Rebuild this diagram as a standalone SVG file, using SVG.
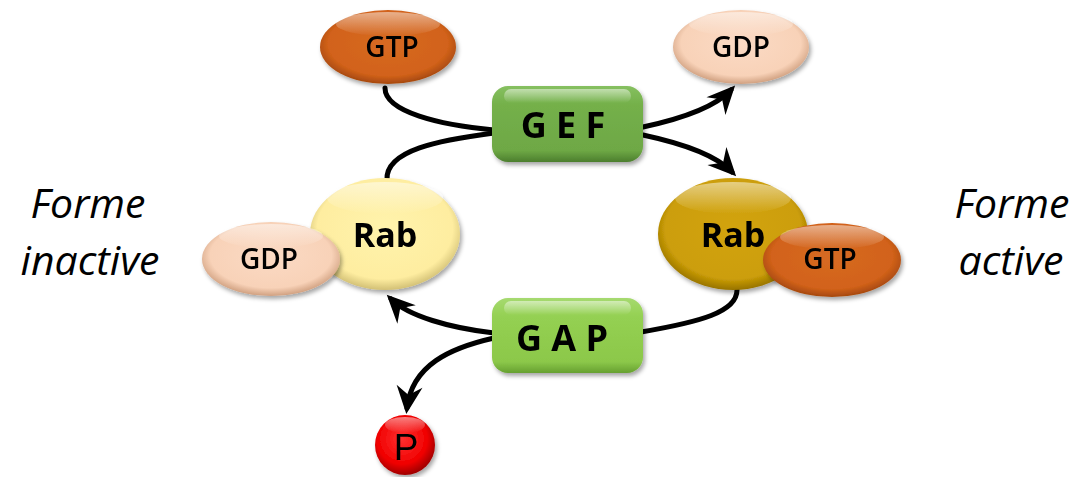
<svg xmlns="http://www.w3.org/2000/svg" width="1081" height="477" viewBox="0 0 1081 477">
<defs>
<style>
.conn{fill:none;stroke:#000;stroke-width:5;stroke-linecap:round}
.lbl{font-family:"Open Sans","Liberation Sans",sans-serif;font-weight:600;font-size:28px;text-anchor:middle;fill:#000}
.rab{font-family:"Open Sans","Liberation Sans",sans-serif;font-weight:700;font-size:34px;text-anchor:middle;fill:#000}
.enz{font-family:"Open Sans","Liberation Sans",sans-serif;font-weight:700;font-size:36px;text-anchor:middle;fill:#000}
.side{font-family:"Open Sans","Liberation Sans",sans-serif;font-style:italic;font-size:41px;text-anchor:middle;fill:#000}
.pp{font-family:"Liberation Sans",sans-serif;font-size:37px;text-anchor:middle;fill:#000}
.hl{fill:url(#hl)}
</style>
<filter id="sh" x="-20%" y="-20%" width="140%" height="150%">
<feDropShadow dx="2" dy="3" stdDeviation="2" flood-color="#000" flood-opacity="0.35"/>
</filter>
<linearGradient id="hl" x1="0" y1="0" x2="0" y2="1">
<stop offset="0" stop-color="#fff" stop-opacity="0.5"/>
<stop offset="1" stop-color="#fff" stop-opacity="0"/>
</linearGradient>
<radialGradient id="gGTP" cx="50%" cy="45%" r="55%">
<stop offset="0" stop-color="#D66A22"/><stop offset="0.8" stop-color="#D2621A"/><stop offset="1" stop-color="#A5480F"/>
</radialGradient>
<radialGradient id="gGDP" cx="50%" cy="45%" r="55%">
<stop offset="0" stop-color="#FBDAC4"/><stop offset="0.8" stop-color="#F8D2B8"/><stop offset="1" stop-color="#D0A080"/>
</radialGradient>
<radialGradient id="gRabI" cx="50%" cy="45%" r="55%">
<stop offset="0" stop-color="#FFF3AC"/><stop offset="0.82" stop-color="#FEEDA0"/><stop offset="1" stop-color="#D2C075"/>
</radialGradient>
<radialGradient id="gRabA" cx="50%" cy="45%" r="55%">
<stop offset="0" stop-color="#D2A30E"/><stop offset="0.82" stop-color="#CC9E08"/><stop offset="1" stop-color="#977300"/>
</radialGradient>
<radialGradient id="gP" cx="45%" cy="40%" r="60%">
<stop offset="0" stop-color="#FF3030"/><stop offset="0.7" stop-color="#F00000"/><stop offset="1" stop-color="#A00000"/>
</radialGradient>
<linearGradient id="gGEF" x1="0" y1="0" x2="0" y2="1">
<stop offset="0" stop-color="#86C060"/><stop offset="0.25" stop-color="#74B04A"/><stop offset="0.85" stop-color="#6EA845"/><stop offset="1" stop-color="#4C7E2E"/>
</linearGradient>
<linearGradient id="gGAP" x1="0" y1="0" x2="0" y2="1">
<stop offset="0" stop-color="#A6DA70"/><stop offset="0.25" stop-color="#94D052"/><stop offset="0.85" stop-color="#8CC84A"/><stop offset="1" stop-color="#66A030"/>
</linearGradient>
<marker id="arr" markerUnits="userSpaceOnUse" markerWidth="40" markerHeight="40" viewBox="-30 -20 40 40" refX="0" refY="0" orient="auto">
<path d="M6,0 L-22,-13 L-13,0 L-22,13 Z" fill="#000"/>
</marker>
</defs>

<g id="connectors">
<path class="conn" d="M385,88 C385,112 440,125 494,130"/>
<path class="conn" d="M494,133 C440,140 385,150 387,180"/>
<path class="conn" d="M643,127 C685,118 716,106 731,90" marker-end="url(#arr)"/>
<path class="conn" d="M643,135 C685,144 716,155 732,172" marker-end="url(#arr)"/>
<path class="conn" d="M641,332 C700,322 737,312 737,290"/>
<path class="conn" d="M494,333 C450,328 408,316 391,299" marker-end="url(#arr)"/>
<path class="conn" d="M494,338 C450,348 412,365 407,408" marker-end="url(#arr)"/>
</g>

<g id="gtp-top" filter="url(#sh)">
<ellipse cx="388" cy="47" rx="68" ry="37" fill="url(#gGTP)"/>
<ellipse class="hl" cx="388" cy="24" rx="52" ry="12"/>
<text class="lbl" x="392" y="57">GTP</text>
</g>

<g id="gdp-top" filter="url(#sh)">
<ellipse cx="741" cy="47" rx="68" ry="37" fill="url(#gGDP)"/>
<ellipse class="hl" cx="741" cy="24" rx="52" ry="12"/>
<text class="lbl" x="741" y="57">GDP</text>
</g>

<g id="gef" filter="url(#sh)">
<rect x="492" y="86" width="151" height="76" rx="16" fill="url(#gGEF)"/>
<rect class="hl" x="504" y="89" width="127" height="14" rx="7"/>
<text class="enz" x="563" y="138">G E F</text>
</g>

<g id="rab-inactive" filter="url(#sh)">
<ellipse cx="385" cy="234" rx="75" ry="56" fill="url(#gRabI)"/>
<ellipse class="hl" cx="385" cy="198" rx="58" ry="16"/>
<text class="rab" x="385" y="247">Rab</text>
</g>

<g id="gdp-left" filter="url(#sh)">
<ellipse cx="271" cy="259" rx="69" ry="37" fill="url(#gGDP)"/>
<ellipse class="hl" cx="271" cy="236" rx="52" ry="12"/>
<text class="lbl" x="269" y="269">GDP</text>
</g>

<g id="rab-active" filter="url(#sh)">
<ellipse cx="733" cy="234" rx="75" ry="56" fill="url(#gRabA)"/>
<ellipse class="hl" cx="733" cy="198" rx="58" ry="16"/>
<text class="rab" x="733" y="247">Rab</text>
</g>

<g id="gtp-right" filter="url(#sh)">
<ellipse cx="832" cy="260" rx="69" ry="37" fill="url(#gGTP)"/>
<ellipse class="hl" cx="832" cy="237" rx="52" ry="12"/>
<text class="lbl" x="830" y="269">GTP</text>
</g>

<g id="gap" filter="url(#sh)">
<rect x="492" y="298" width="151" height="75" rx="16" fill="url(#gGAP)"/>
<rect class="hl" x="504" y="301" width="127" height="14" rx="7"/>
<text class="enz" x="562" y="351">G A P</text>
</g>

<g id="phosphate" filter="url(#sh)">
<circle cx="405" cy="445" r="30" fill="url(#gP)"/>
<ellipse class="hl" cx="405" cy="425" rx="20" ry="8"/>
<text class="pp" x="406" y="460">P</text>
</g>

<g id="label-inactive">
<text class="side" x="88" y="218">Forme</text>
<text class="side" x="90" y="275">inactive</text>
</g>
<g id="label-active">
<text class="side" x="1012" y="218">Forme</text>
<text class="side" x="1011" y="275">active</text>
</g>
</svg>
